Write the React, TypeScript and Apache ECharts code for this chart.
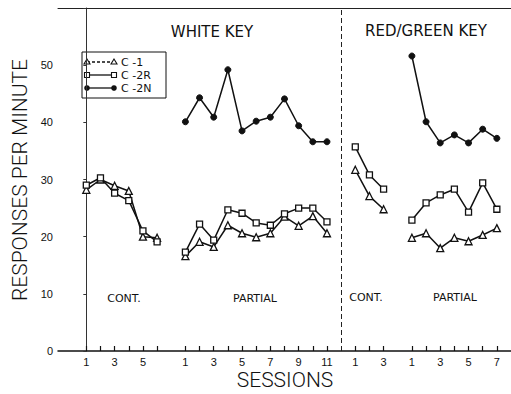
import React, { useEffect, useRef } from "react";
import * as echarts from "echarts";

// Session numbers per phase
const whiteContSessions = [1, 2, 3, 4, 5, 6];
const whitePartialSessions = [1, 2, 3, 4, 5, 6, 7, 8, 9, 10, 11];
const redContSessions = [1, 2, 3];
const redPartialSessions = [1, 2, 3, 4, 5, 6, 7];

// Responses per minute
const whiteContC1 = [28.2, 30.0, 28.9, 28.0, 20.0, 19.8];
const whiteContC2R = [29.0, 30.3, 27.6, 26.3, 21.0, 19.1];
const whitePartialC1 = [16.6, 19.1, 18.2, 22.0, 20.6, 19.9, 20.6, 23.5, 21.9, 23.6, 20.6];
const whitePartialC2R = [17.3, 22.2, 19.4, 24.7, 24.1, 22.4, 22.0, 24.0, 25.0, 25.0, 22.6];
const whitePartialC2N = [40.1, 44.3, 40.9, 49.2, 38.5, 40.2, 40.9, 44.1, 39.4, 36.6, 36.6];
const redContC1 = [31.7, 27.1, 24.8];
const redContC2R = [35.7, 30.8, 28.3];
const redPartialC1 = [19.8, 20.6, 18.0, 19.8, 19.2, 20.3, 21.5];
const redPartialC2R = [22.9, 25.9, 27.3, 28.3, 24.3, 29.4, 24.8];
const redPartialC2N = [51.6, 40.1, 36.4, 37.8, 36.4, 38.8, 37.2];

const yTicks = [0, 10, 20, 30, 40, 50];

// phase slots on the shared session axis
const phases = [
  { sessions: whiteContSessions, start: 0, c1: whiteContC1, c2r: whiteContC2R, c2n: null as number[] | null },
  { sessions: whitePartialSessions, start: 7, c1: whitePartialC1, c2r: whitePartialC2R, c2n: whitePartialC2N },
  { sessions: redContSessions, start: 19, c1: redContC1, c2r: redContC2R, c2n: null as number[] | null },
  { sessions: redPartialSessions, start: 23, c1: redPartialC1, c2r: redPartialC2R, c2n: redPartialC2N },
];
const dividerPos = 18;

const FONT = "DejaVu Sans";

export default function App() {
  const ref = useRef<HTMLDivElement>(null);
  useEffect(() => {
    if (!ref.current) return;
    const chart = echarts.init(ref.current, null, { renderer: "svg" });

    const tickPositions: number[] = [];
    const labelMap: Record<number, string> = {};
    phases.forEach((p) => {
      p.sessions.forEach((s) => {
        const pos = p.start + s - 1;
        tickPositions.push(pos);
        if (s % 2 === 1) labelMap[pos] = String(s);
      });
    });
    const labelPositions = Object.keys(labelMap).map(Number);

    const mk = (p: typeof phases[number], vals: number[]) =>
      p.sessions.map((s, i) => [p.start + s - 1, vals[i]]);

    const series: any[] = [];
    phases.forEach((p, pi) => {
      series.push({
        type: "line",
        name: "C-1",
        data: mk(p, p.c1),
        symbol: "triangle",
        symbolSize: 7,
        lineStyle: { color: "#111", width: 1.5 },
        itemStyle: { color: "#fff", borderColor: "#111", borderWidth: 1.3 },
        z: 3,
        markLine:
          pi === 0
            ? {
                silent: true,
                symbol: "none",
                label: { show: false },
                lineStyle: { color: "#222", type: [5, 3], width: 1 },
                data: [{ xAxis: dividerPos }],
              }
            : undefined,
      });
      series.push({
        type: "line",
        name: "C-2R",
        data: mk(p, p.c2r),
        symbol: "rect",
        symbolSize: 6,
        lineStyle: { color: "#111", width: 1.5 },
        itemStyle: { color: "#fff", borderColor: "#111", borderWidth: 1.3 },
        z: 4,
      });
      if (p.c2n) {
        series.push({
          type: "line",
          name: "C-2N",
          data: mk(p, p.c2n),
          symbol: "circle",
          symbolSize: 6,
          lineStyle: { color: "#111", width: 1.5 },
          itemStyle: { color: "#111", borderColor: "#111" },
          z: 5,
        });
      }
    });

    const legendRows = [
      { y: 62, label: "C -1", kind: "tri" },
      { y: 75, label: "C -2R", kind: "sq" },
      { y: 88, label: "C -2N", kind: "dot" },
    ];
    const legendEls: any[] = [
      {
        type: "rect",
        shape: { x: 82, y: 52, width: 84, height: 46 },
        style: { fill: "none", stroke: "#111", lineWidth: 1 },
      },
    ];
    legendRows.forEach((r) => {
      legendEls.push({
        type: "line",
        shape: { x1: 87, y1: r.y, x2: 114, y2: r.y },
        style: { stroke: "#111", lineWidth: 1.3, lineDash: r.kind === "tri" ? [3, 2] : null },
      });
      [87, 114].forEach((cx) => {
        if (r.kind === "tri") {
          legendEls.push({
            type: "polygon",
            shape: { points: [[cx, r.y - 3], [cx - 3, r.y + 2], [cx + 3, r.y + 2]] },
            style: { fill: "#fff", stroke: "#111", lineWidth: 1.1 },
          });
        } else if (r.kind === "sq") {
          legendEls.push({
            type: "rect",
            shape: { x: cx - 2.5, y: r.y - 2.5, width: 5, height: 5 },
            style: { fill: "#fff", stroke: "#111", lineWidth: 1.1 },
          });
        } else {
          legendEls.push({
            type: "circle",
            shape: { cx, cy: r.y, r: 2.8 },
            style: { fill: "#111" },
          });
        }
      });
      legendEls.push({
        type: "text",
        x: 121,
        y: r.y,
        style: { text: r.label, font: `11px '${FONT}'`, fill: "#111", verticalAlign: "middle" },
      });
    });

    const txt = (text: string, x: number, y: number, size: number, weight = "normal", family = FONT) => ({
      type: "text",
      x,
      y,
      style: {
        text,
        font: `${weight} ${size}px '${family}'`,
        fill: "#111",
        align: "center",
        verticalAlign: "middle",
      },
    });

    chart.setOption({
      animation: false,
      backgroundColor: "#fff",
      grid: { left: 58, top: 8, width: 456, height: 343, containLabel: false },
      xAxis: [
        {
          type: "value",
          min: -2,
          max: 30,
          splitLine: { show: false },
          axisLine: { show: true, onZero: false, lineStyle: { color: "#111", width: 1.5 } },
          axisTick: {
            show: true,
            inside: true,
            length: 5,
            customValues: tickPositions,
            lineStyle: { color: "#111", width: 1.2 },
          },
          axisLabel: {
            customValues: labelPositions,
            formatter: (v: number) => labelMap[v] ?? "",
            color: "#111",
            fontFamily: "Liberation Sans",
            fontSize: 11,
            margin: 5,
          },
        },
        {
          type: "value",
          position: "top",
          min: -2,
          max: 30,
          splitLine: { show: false },
          axisLine: { show: true, onZero: false, lineStyle: { color: "#222", width: 1 } },
          axisTick: { show: false },
          axisLabel: { show: false },
        },
      ],
      yAxis: {
        type: "value",
        min: 0,
        max: 60,
        interval: 10,
        splitLine: { show: false },
        axisLine: { show: true, lineStyle: { color: "#333", width: 1 } },
        axisTick: { show: true, length: 3, lineStyle: { color: "#333" } },
        axisLabel: {
          formatter: (v: number) => (yTicks.includes(v) ? String(v) : ""),
          color: "#111",
          fontFamily: "Liberation Sans",
          fontSize: 11,
          margin: 5,
        },
      },
      series,
      graphic: [
        ...legendEls,
        txt("WHITE KEY", 212, 32, 15),
        txt("RED/GREEN KEY", 426, 31, 15),
        txt("CONT.", 124, 298, 11),
        txt("PARTIAL", 255, 298, 11),
        txt("CONT.", 366, 297, 11),
        txt("PARTIAL", 455, 297, 11),
        txt("SESSIONS", 285, 380, 21, "300", "Roboto"),
        {
          type: "text",
          x: 20,
          y: 180,
          rotation: Math.PI / 2,
          style: {
            text: "RESPONSES PER MINUTE",
            font: "300 21px 'Roboto'",
            fill: "#111",
            align: "center",
            verticalAlign: "middle",
          },
        },
      ],
    });
    return () => chart.dispose();
  }, []);
  return (
    <div
      ref={ref}
      style={{ position: "fixed", left: 0, top: 0, width: 511, height: 394, background: "#fff" }}
    />
  );
}
